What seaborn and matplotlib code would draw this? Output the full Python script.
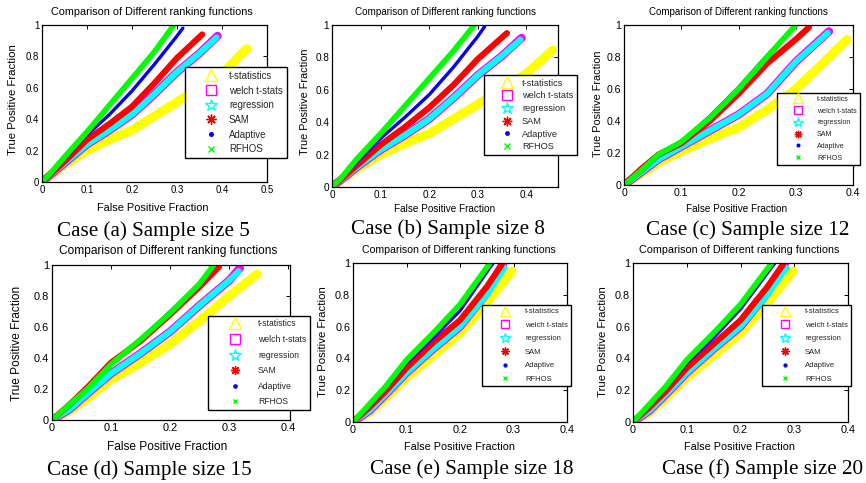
import matplotlib
matplotlib.use("Agg")
import matplotlib.pyplot as plt
from matplotlib.lines import Line2D
import pandas as pd
import seaborn as sns

# ---------------------------------------------------------------- data
methods = ["t-statistics", "welch t-stats", "regression", "SAM", "Adaptive", "RFHOS"]
line_colors = ["#ffff00", "#ff00ff", "#00ffff", "#ff0000", "#0000ff", "#00ff00"]
case_letters = ["a", "b", "c", "d", "e", "f"]
sample_sizes = [5, 8, 12, 15, 18, 20]
plot_title = "Comparison of Different ranking functions"
x_label = "False Positive Fraction"
y_label = "True Positive Fraction"
y_ticks = [0, 0.2, 0.4, 0.6, 0.8, 1]
x_ticks_per_case = [
    [0, 0.1, 0.2, 0.3, 0.4, 0.5],
    [0, 0.1, 0.2, 0.3, 0.4],
    [0, 0.1, 0.2, 0.3, 0.4],
    [0, 0.1, 0.2, 0.3, 0.4],
    [0, 0.1, 0.2, 0.3, 0.4],
    [0, 0.1, 0.2, 0.3, 0.4],
]
x_max_per_case = [0.5, 0.465, 0.4, 0.403, 0.4, 0.4]

# ROC curves: method -> (false positive fraction, true positive fraction)
roc_size5 = {
    "t-statistics": ([0, 0.05, 0.1, 0.15, 0.2, 0.25, 0.3, 0.35, 0.4, 0.455],
                     [0, 0.11, 0.2, 0.27, 0.33, 0.42, 0.51, 0.6, 0.69, 0.85]),
    "welch t-stats": ([0, 0.05, 0.1, 0.15, 0.2, 0.25, 0.3, 0.35, 0.39],
                      [0, 0.12, 0.24, 0.33, 0.43, 0.56, 0.7, 0.82, 0.93]),
    "regression": ([0, 0.05, 0.1, 0.15, 0.2, 0.25, 0.3, 0.35, 0.388],
                   [0, 0.12, 0.24, 0.33, 0.43, 0.56, 0.7, 0.82, 0.92]),
    "SAM": ([0, 0.05, 0.1, 0.15, 0.2, 0.25, 0.3, 0.356],
            [0, 0.13, 0.27, 0.37, 0.48, 0.63, 0.79, 0.94]),
    "Adaptive": ([0, 0.05, 0.1, 0.15, 0.2, 0.25, 0.3, 0.313],
                 [0, 0.15, 0.3, 0.43, 0.58, 0.75, 0.93, 0.98]),
    "RFHOS": ([0, 0.02, 0.05, 0.1, 0.15, 0.2, 0.25, 0.293],
              [0, 0.06, 0.16, 0.32, 0.49, 0.66, 0.83, 1.0]),
}
roc_size8 = {
    "t-statistics": ([0, 0.05, 0.1, 0.15, 0.2, 0.25, 0.3, 0.35, 0.4, 0.454],
                     [0, 0.11, 0.2, 0.27, 0.33, 0.42, 0.51, 0.61, 0.7, 0.845]),
    "welch t-stats": ([0, 0.05, 0.1, 0.15, 0.2, 0.25, 0.3, 0.35, 0.39],
                      [0, 0.12, 0.23, 0.32, 0.42, 0.55, 0.69, 0.81, 0.92]),
    "regression": ([0, 0.05, 0.1, 0.15, 0.2, 0.25, 0.3, 0.35, 0.388],
                   [0, 0.12, 0.23, 0.32, 0.42, 0.55, 0.69, 0.81, 0.91]),
    "SAM": ([0, 0.05, 0.1, 0.15, 0.2, 0.25, 0.3, 0.36],
            [0, 0.13, 0.26, 0.37, 0.49, 0.63, 0.79, 0.95]),
    "Adaptive": ([0, 0.05, 0.1, 0.15, 0.2, 0.25, 0.3, 0.314],
                 [0, 0.15, 0.3, 0.43, 0.57, 0.74, 0.93, 0.99]),
    "RFHOS": ([0, 0.02, 0.05, 0.1, 0.15, 0.2, 0.25, 0.293],
              [0, 0.06, 0.17, 0.33, 0.5, 0.67, 0.84, 1.0]),
}
roc_size12 = {
    "t-statistics": ([0, 0.03, 0.06, 0.1, 0.15, 0.2, 0.25, 0.3, 0.35, 0.39],
                     [0, 0.07, 0.14, 0.21, 0.29, 0.36, 0.47, 0.6, 0.77, 0.91]),
    "welch t-stats": ([0, 0.03, 0.06, 0.1, 0.15, 0.2, 0.25, 0.3, 0.358],
                      [0, 0.08, 0.16, 0.24, 0.34, 0.44, 0.57, 0.77, 0.96]),
    "regression": ([0, 0.03, 0.06, 0.1, 0.15, 0.2, 0.25, 0.3, 0.356],
                   [0, 0.08, 0.16, 0.24, 0.34, 0.44, 0.57, 0.77, 0.95]),
    "SAM": ([0, 0.03, 0.06, 0.1, 0.15, 0.2, 0.25, 0.3, 0.323],
            [0, 0.1, 0.19, 0.26, 0.4, 0.57, 0.76, 0.91, 0.985]),
    "Adaptive": ([0, 0.03, 0.06, 0.1, 0.15, 0.2, 0.25, 0.298],
                 [0, 0.08, 0.18, 0.27, 0.43, 0.61, 0.81, 0.99]),
    "RFHOS": ([0, 0.03, 0.06, 0.1, 0.15, 0.2, 0.25, 0.3],
              [0, 0.09, 0.19, 0.27, 0.42, 0.6, 0.8, 1.0]),
}
roc_size15 = {
    "t-statistics": ([0, 0.03, 0.06, 0.1, 0.15, 0.2, 0.25, 0.3, 0.347],
                     [0, 0.06, 0.14, 0.26, 0.37, 0.49, 0.64, 0.8, 0.94]),
    "welch t-stats": ([0, 0.03, 0.06, 0.1, 0.15, 0.2, 0.25, 0.3, 0.318],
                      [0, 0.07, 0.17, 0.3, 0.43, 0.57, 0.74, 0.9, 0.98]),
    "regression": ([0, 0.03, 0.06, 0.1, 0.15, 0.2, 0.25, 0.3, 0.316],
                   [0, 0.07, 0.17, 0.3, 0.43, 0.57, 0.74, 0.9, 0.96]),
    "SAM": ([0, 0.03, 0.06, 0.1, 0.15, 0.2, 0.25, 0.283],
            [0, 0.1, 0.21, 0.37, 0.51, 0.68, 0.86, 0.99]),
    "Adaptive": ([0, 0.03, 0.06, 0.1, 0.15, 0.2, 0.25, 0.272],
                 [0, 0.09, 0.2, 0.36, 0.52, 0.7, 0.88, 0.99]),
    "RFHOS": ([0, 0.03, 0.06, 0.1, 0.15, 0.2, 0.25, 0.274],
              [0, 0.1, 0.2, 0.36, 0.52, 0.69, 0.88, 1.0]),
}
roc_size18 = {
    "t-statistics": ([0, 0.03, 0.06, 0.1, 0.15, 0.2, 0.25, 0.297],
                     [0, 0.06, 0.15, 0.28, 0.42, 0.56, 0.75, 0.95]),
    "welch t-stats": ([0, 0.03, 0.06, 0.1, 0.15, 0.2, 0.25, 0.281],
                      [0, 0.07, 0.17, 0.31, 0.46, 0.6, 0.81, 1.0]),
    "regression": ([0, 0.03, 0.06, 0.1, 0.15, 0.2, 0.25, 0.283],
                   [0, 0.07, 0.17, 0.31, 0.46, 0.6, 0.8, 0.97]),
    "SAM": ([0, 0.03, 0.06, 0.1, 0.15, 0.2, 0.25, 0.278],
            [0, 0.09, 0.19, 0.34, 0.5, 0.64, 0.85, 0.99]),
    "Adaptive": ([0, 0.03, 0.06, 0.1, 0.15, 0.2, 0.262],
                 [0, 0.1, 0.21, 0.37, 0.53, 0.7, 1.0]),
    "RFHOS": ([0, 0.03, 0.06, 0.1, 0.15, 0.2, 0.256],
              [0, 0.11, 0.22, 0.39, 0.56, 0.74, 1.0]),
}
roc_size20 = {
    "t-statistics": ([0, 0.03, 0.06, 0.1, 0.15, 0.2, 0.25, 0.298],
                     [0, 0.06, 0.15, 0.28, 0.42, 0.56, 0.75, 0.95]),
    "welch t-stats": ([0, 0.03, 0.06, 0.1, 0.15, 0.2, 0.25, 0.283],
                      [0, 0.07, 0.17, 0.31, 0.46, 0.6, 0.81, 1.0]),
    "regression": ([0, 0.03, 0.06, 0.1, 0.15, 0.2, 0.25, 0.285],
                   [0, 0.07, 0.17, 0.31, 0.46, 0.6, 0.8, 0.97]),
    "SAM": ([0, 0.03, 0.06, 0.1, 0.15, 0.2, 0.25, 0.279],
            [0, 0.09, 0.19, 0.34, 0.49, 0.64, 0.85, 0.99]),
    "Adaptive": ([0, 0.03, 0.06, 0.1, 0.15, 0.2, 0.264],
                 [0, 0.1, 0.21, 0.37, 0.53, 0.71, 1.0]),
    "RFHOS": ([0, 0.03, 0.06, 0.1, 0.15, 0.2, 0.258],
              [0, 0.11, 0.22, 0.39, 0.56, 0.74, 1.0]),
}
roc_cases = [roc_size5, roc_size8, roc_size12, roc_size15, roc_size18, roc_size20]

# ---------------------------------------------------------------- styling
sns.set_theme(style="white")
plt.rcParams["font.family"] = ["Liberation Sans", "DejaVu Sans"]

W, H = 866, 483
fig = plt.figure(figsize=(W / 100, H / 100), dpi=100)
fig.patch.set_facecolor("white")


def fx(px):
    return px / W


def fy(py):
    return 1 - py / H


# band widths (points) for each method's curve
band_widths = {"t-statistics": 6.5, "welch t-stats": 6.0, "regression": 4.4,
               "SAM": 4.4, "Adaptive": 2.4, "RFHOS": 4.0}

# legend marker styles: (marker, size factor, open marker)
legend_markers = {
    "t-statistics": ("^", 1.35, True),
    "welch t-stats": ("s", 1.05, True),
    "regression": ("*", 1.35, True),
    "SAM": ((8, 2, 0), 1.05, False),
    "Adaptive": (".", 0.75, False),
    "RFHOS": ("x", 0.55, False),
}

# panel geometry in pixels: axes (left, top, right, bottom)
axes_px = [(42, 25, 267, 182), (332, 25, 558, 187), (624, 25, 853, 185),
           (52, 265, 290, 420), (353, 263, 567, 422), (633, 263, 848, 422)]
title_px = [(152, 12), (446, 12), (738, 12), (168, 251), (459, 250), (739, 250)]
title_fs = [7.8, 7.1, 7.0, 8.6, 7.6, 7.75]
xlabel_px = [(153, 208), (445, 209), (737, 209), (167, 447), (459, 447), (740, 447)]
xlabel_fs = [7.9, 7.2, 7.2, 8.6, 7.8, 7.8]
ylabel_px = [(13, 100), (305, 102), (598, 104), (17, 343), (323, 342), (603, 342)]
ylabel_fs = [8.2, 7.8, 7.8, 8.6, 8.2, 8.2]
tick_fs = [6.9, 7.2, 7.6, 7.9, 7.8, 7.8]
caption_px = [(153, 231), (448, 229), (748, 230), (149, 470), (472, 469), (762, 469)]
# legend: (left, top, font pt, row pitch px, marker offset px, text offset px)
legend_px = [(185, 67, 6.9, 15.4, 26, 44), (484, 75, 6.6, 14.0, 23, 38),
             (777, 93, 5.1, 12.7, 21, 40), (208, 316, 6.2, 16.2, 27, 50),
             (482, 305, 5.5, 14.7, 23, 43), (762, 305, 5.5, 14.7, 23, 43)]


def fmt_tick(v):
    return f"{v:g}"


for i, roc in enumerate(roc_cases):
    l, t, r, b = axes_px[i]
    ax = fig.add_axes([fx(l), fy(b), fx(r) - fx(l), (b - t) / H])

    rows = []
    for m in methods:
        xs, ys = roc[m]
        for k, (xv, yv) in enumerate(zip(xs, ys)):
            rows.append({"method": m, "order": k, "fpf": xv, "tpf": yv})
    df = pd.DataFrame(rows)

    sns.lineplot(data=df, x="fpf", y="tpf", hue="method", size="method",
                 hue_order=methods, size_order=methods,
                 palette=dict(zip(methods, line_colors)), sizes=band_widths,
                 sort=False, estimator=None, legend=False, ax=ax,
                 solid_joinstyle="round", solid_capstyle="round")

    ax.set_xlim(0, x_max_per_case[i])
    ax.set_ylim(0, 1)
    ax.set_xticks(x_ticks_per_case[i])
    ax.set_xticklabels([fmt_tick(v) for v in x_ticks_per_case[i]])
    ax.set_yticks(y_ticks)
    ax.set_yticklabels([fmt_tick(v) for v in y_ticks])
    ax.set_xlabel("")
    ax.set_ylabel("")
    ax.tick_params(direction="in", length=3, width=0.7, colors="black",
                   labelsize=tick_fs[i], top=True, right=True, pad=2)
    for s in ax.spines.values():
        s.set_visible(True)
        s.set_color("black")
        s.set_linewidth(0.9)

    fig.text(fx(title_px[i][0]), fy(title_px[i][1]), plot_title,
             ha="center", va="center", fontsize=title_fs[i], color="black")
    fig.text(fx(xlabel_px[i][0]), fy(xlabel_px[i][1]), x_label,
             ha="center", va="center", fontsize=xlabel_fs[i], color="black")
    fig.text(fx(ylabel_px[i][0]), fy(ylabel_px[i][1]), y_label, rotation=90,
             ha="center", va="center", fontsize=ylabel_fs[i], color="black")
    fig.text(fx(caption_px[i][0]), fy(caption_px[i][1]),
             f"Case ({case_letters[i]}) Sample size {sample_sizes[i]}",
             ha="center", va="center", fontsize=15.2, color="black",
             family=["Liberation Serif", "DejaVu Serif"])

    # legend
    lx, ly, lfs, pitch, moff, toff = legend_px[i]
    fs_px = lfs * 100 / 72
    bpad = 0.4
    hlen = 2 * (moff / fs_px - bpad)
    htp = toff / fs_px - bpad - hlen
    lspace = pitch / fs_px - 1.12
    handles = []
    for m, c in zip(methods, line_colors):
        mk, sf, is_open = legend_markers[m]
        handles.append(Line2D([], [], linestyle="none", marker=mk,
                              markersize=lfs * sf,
                              markerfacecolor="none" if is_open else c,
                              markeredgecolor=c, markeredgewidth=1.0))
    leg = ax.legend(handles, methods, loc="upper left",
                    bbox_to_anchor=(fx(lx), fy(ly)), bbox_transform=fig.transFigure,
                    borderaxespad=0, fontsize=lfs, frameon=True, fancybox=False,
                    framealpha=1, edgecolor="black", borderpad=bpad,
                    handlelength=hlen, handletextpad=htp, labelspacing=lspace,
                    numpoints=1)
    leg.get_frame().set_linewidth(1.0)
    leg.set_zorder(10)

fig.savefig("out.png", dpi=100, facecolor="white")
